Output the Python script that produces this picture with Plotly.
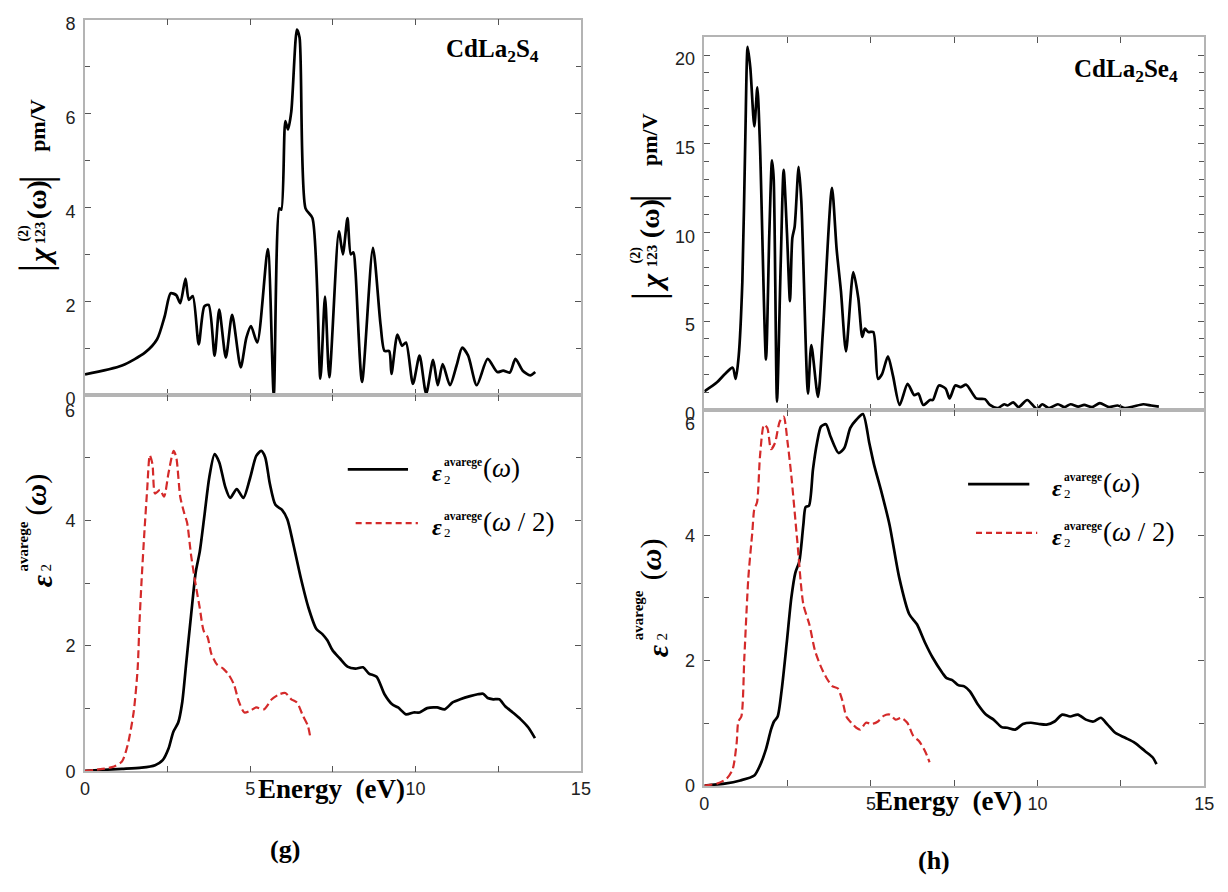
import plotly.graph_objects as go

W, H = 1228, 892

# ---------------- data ----------------
# (g) CdLa2S4 |chi(2)_123|
chi_s_e = [0, 1.12, 1.82, 2.18, 2.41, 2.59, 2.76, 2.88, 3.04, 3.14, 3.26, 3.44, 3.61, 3.74, 3.92,
           4.06, 4.26, 4.45, 4.71, 4.88, 5.02, 5.21, 5.53, 5.71, 5.88, 5.94, 6.06, 6.14, 6.24, 6.41,
           6.49, 6.67, 6.88, 7.12, 7.26, 7.39, 7.68, 7.80, 7.94, 8.04, 8.12, 8.18, 8.38, 8.71, 8.94,
           9.06, 9.20, 9.27, 9.45, 9.59, 9.71, 9.92, 10.12, 10.32, 10.53, 10.67, 10.82, 11.04, 11.24,
           11.41, 11.59, 11.85, 12.18, 12.47, 12.65, 12.85, 13.02, 13.24, 13.47, 13.62]
chi_s_v = [0.44, 0.63, 0.91, 1.19, 1.68, 2.17, 2.13, 1.96, 2.48, 2.03, 2.11, 1.08, 1.89, 1.92, 0.84,
           1.82, 0.80, 1.71, 0.59, 1.22, 1.47, 1.12, 3.11, 0.0, 3.98, 3.95, 5.84, 5.66, 6.04, 7.79,
           7.62, 3.98, 3.77, 0.35, 2.10, 0.38, 3.49, 3.00, 3.77, 3.00, 3.04, 2.66, 0.28, 3.14, 1.50,
           0.94, 0.94, 0.45, 1.29, 1.05, 1.12, 0.24, 0.84, 0.03, 0.75, 0.21, 0.66, 0.21, 0.63,
           1.01, 0.84, 0.21, 0.77, 0.49, 0.52, 0.48, 0.77, 0.52, 0.42, 0.49]

# (g) eps2 average (omega)
eps_s_e = [0, 1.12, 1.71, 2.12, 2.35, 2.53, 2.67, 2.82, 2.94, 3.06, 3.21, 3.35, 3.47, 3.61, 3.76,
           3.92, 4.06, 4.24, 4.39, 4.59, 4.79, 5.00, 5.18, 5.33, 5.45, 5.59, 5.76, 5.96, 6.12, 6.29,
           6.53, 6.76, 7.00, 7.18, 7.33, 7.49, 7.71, 7.94, 8.18, 8.41, 8.59, 8.82, 9.06, 9.29, 9.47,
           9.71, 9.94, 10.12, 10.35, 10.65, 10.88, 11.12, 11.35, 11.65, 11.88, 12.04, 12.18, 12.35,
           12.53, 12.71, 12.94, 13.18, 13.41, 13.61]
eps_s_v = [0.01, 0.04, 0.06, 0.10, 0.18, 0.37, 0.63, 0.78, 1.10, 1.72, 2.50, 3.18, 3.50, 4.07, 4.69,
           5.06, 4.93, 4.54, 4.36, 4.50, 4.36, 4.69, 5.03, 5.11, 5.01, 4.59, 4.25, 4.17, 4.02, 3.65,
           3.08, 2.61, 2.27, 2.19, 2.09, 1.93, 1.80, 1.67, 1.64, 1.66, 1.56, 1.51, 1.23, 1.07, 1.02,
           0.91, 0.94, 0.94, 1.01, 1.02, 0.99, 1.10, 1.15, 1.20, 1.23, 1.24, 1.17, 1.15,
           1.15, 1.04, 0.94, 0.83, 0.70, 0.53]

# (g) eps2 average (omega/2)
half_s_e = [0, 0.53, 0.88, 1.12, 1.29, 1.47, 1.59, 1.65, 1.71, 1.79, 1.88, 1.96, 2.04, 2.12, 2.27,
            2.39, 2.53, 2.68, 2.76, 2.88, 3.00, 3.09, 3.21, 3.35, 3.47, 3.59, 3.71, 3.82, 4.00, 4.18,
            4.35, 4.51, 4.65, 4.82, 5.00, 5.18, 5.41, 5.65, 5.88, 6.06, 6.24, 6.41, 6.59, 6.74, 6.82]
half_s_v = [0.01, 0.04, 0.08, 0.16, 0.42, 0.94, 1.62, 2.40, 3.03, 3.76, 4.49, 5.04, 4.90, 4.43, 4.49,
            4.38, 4.77, 5.11, 5.01, 4.38, 4.12, 3.96, 3.44, 2.97, 2.61, 2.24, 2.14, 1.88, 1.70, 1.64,
            1.54, 1.38, 1.12, 0.94, 0.97, 1.02, 0.99, 1.15, 1.23, 1.25, 1.15, 1.10, 0.89, 0.73, 0.53]

# (h) CdLa2Se4 |chi(2)_123|
chi_se_e = [0, 0.38, 0.61, 0.85, 0.94, 1.03, 1.14, 1.23, 1.30, 1.38, 1.50, 1.59, 1.67, 1.85, 1.95,
            2.03, 2.08, 2.18, 2.29, 2.38, 2.48, 2.57, 2.64, 2.71, 2.83, 2.91, 3.11, 3.21, 3.41, 3.56,
            3.83, 3.97, 4.10, 4.25, 4.47, 4.62, 4.74, 4.82, 4.92, 5.07, 5.21, 5.33, 5.51, 5.66, 5.86,
            6.10, 6.30, 6.42, 6.57, 6.77, 6.86, 7.04, 7.24, 7.36, 7.53, 7.69, 7.86, 8.16, 8.42, 8.57,
            8.80, 9.00, 9.10, 9.27, 9.43, 9.69, 9.98, 10.14, 10.34, 10.61, 10.81, 10.99, 11.22, 11.40,
            11.64, 11.87, 12.14, 12.40, 12.62, 12.87, 13.17, 13.41, 13.64]
chi_se_v = [1.04, 1.55, 2.00, 2.37, 1.74, 3.01, 7.21, 15.4, 20.46, 19.27, 15.98, 18.17, 14.89, 2.83, 9.95,
            14.06, 13.06, 0.46, 8.13, 13.52, 9.95, 6.12, 9.68, 10.32, 13.70, 11.78, 0.91, 3.65, 0.73, 4.47,
            12.51, 9.04, 6.67, 3.29, 7.76, 6.30, 4.11, 4.57, 4.38, 4.38, 1.74, 2.00, 3.01, 1.92, 0.27,
            1.46, 0.82, 0.91, 0.27, 0.55, 0.55, 1.37, 1.19, 0.64, 1.37, 1.28, 1.41, 0.64, 0.60, 0.27,
            0.09, 0.31, 0.24, 0.42, 0.15, 0.55, 0.04, 0.31, 0.09, 0.31, 0.15, 0.31, 0.18, 0.27,
            0.15, 0.37, 0.15, 0.24, 0.09, 0.18, 0.31, 0.24, 0.18]

# (h) eps2 average (omega)
eps_se_e = [0, 0.61, 1.08, 1.50, 1.67, 1.85, 2.00, 2.09, 2.20, 2.32, 2.47, 2.61, 2.73, 2.85, 2.97,
            3.04, 3.14, 3.26, 3.38, 3.50, 3.65, 3.79, 4.03, 4.20, 4.38, 4.56, 4.76, 4.95, 5.09, 5.32,
            5.56, 5.85, 6.15, 6.38, 6.62, 6.85, 7.15, 7.27, 7.44, 7.62, 7.80, 7.97, 8.21, 8.45, 8.68,
            8.92, 9.09, 9.33, 9.56, 9.80, 10.04, 10.27, 10.51, 10.74, 10.98, 11.21, 11.45, 11.68,
            11.90, 12.10, 12.33, 12.63, 12.92, 13.22, 13.45, 13.57]
eps_se_v = [0.01, 0.04, 0.09, 0.17, 0.33, 0.59, 0.90, 1.03, 1.11, 1.53, 2.27, 3.00, 3.40, 3.58, 4.16,
            4.45, 4.47, 5.05, 5.47, 5.73, 5.77, 5.57, 5.31, 5.39, 5.71, 5.84, 5.93, 5.47, 5.13, 4.68,
            4.16, 3.32, 2.74, 2.58, 2.29, 2.05, 1.80, 1.72, 1.69, 1.61, 1.59, 1.51, 1.30, 1.14, 1.06,
            0.94, 0.93, 0.90, 0.99, 1.01, 0.99, 0.98, 1.03, 1.14, 1.11, 1.14, 1.06, 1.03,
            1.09, 0.98, 0.85, 0.77, 0.69, 0.56, 0.46, 0.35]

# (h) eps2 average (omega/2)
half_se_e = [0, 0.38, 0.67, 0.85, 0.97, 1.02, 1.11, 1.20, 1.32, 1.44, 1.50, 1.58, 1.67, 1.79, 1.89,
             2.00, 2.12, 2.26, 2.38, 2.50, 2.61, 2.79, 2.97, 3.15, 3.32, 3.50, 3.67, 3.85, 4.00, 4.15,
             4.26, 4.41, 4.56, 4.68, 4.85, 5.03, 5.21, 5.38, 5.56, 5.74, 5.91, 6.09, 6.27, 6.44, 6.62, 6.76]
half_se_v = [0.01, 0.04, 0.12, 0.27, 0.69, 1.03, 1.11, 2.05, 3.32, 4.05, 4.42, 4.52, 5.26, 5.76, 5.71,
             5.37, 5.47, 5.81, 5.89, 5.47, 4.95, 3.90, 2.90, 2.58, 2.16, 1.90, 1.72, 1.59, 1.56, 1.35,
             1.11, 1.01, 0.93, 0.90, 1.01, 0.99, 1.03, 1.12, 1.14, 1.06, 1.09, 1.01, 0.80, 0.72, 0.56, 0.38]

x_ticks = [0, 5, 10, 15]
eps_ticks = [0, 2, 4, 6]
eps_ticktext = ["0", "2", "4", ""]   # the "6" is drawn lower, as in the original

# ---------------- figure ----------------
def px2x(p):
    return p / W

def px2y(p):
    return 1 - p / H

fig = go.Figure()

BLACK = dict(color="black", width=2.7)
RED = dict(color="#d42a2a", width=2.2, dash="8px,4px")

def add(xs, ys, ax, style):
    fig.add_trace(go.Scatter(x=xs, y=ys, mode="lines",
                             line=dict(**style, shape="spline", smoothing=0.7),
                             xaxis="x" + ax, yaxis="y" + ax, showlegend=False, hoverinfo="skip"))

add(chi_s_e, chi_s_v, "", BLACK)
add(eps_s_e, eps_s_v, "2", BLACK)
add(half_s_e, half_s_v, "2", RED)
add(chi_se_e, chi_se_v, "3", BLACK)
add(eps_se_e, eps_se_v, "4", BLACK)
add(half_se_e, half_se_v, "4", RED)

FRAME = "#b4b4b4"
TICKC = "#555555"
SANS = "Liberation Sans, Arial, sans-serif"
TICKFONT = dict(family=SANS, size=18, color="#222")

def xax(dom, labels, anchor):
    return dict(domain=dom, range=[0, 15], tickvals=x_ticks, showticklabels=labels,
                ticks="inside", ticklen=6, tickcolor=TICKC, tickwidth=1.3,
                minor=dict(dtick=2.5, ticks="inside", ticklen=6, tickcolor=TICKC, tickwidth=1.3),
                showline=True, linecolor=FRAME, linewidth=1.6, mirror="ticks",
                showgrid=False, zeroline=False, tickfont=TICKFONT, anchor=anchor)

def yax(dom, rng, dtick, mdt, anchor, eps=False):
    d = dict(domain=dom, range=rng, dtick=dtick, tick0=0,
             ticks="inside", ticklen=6, tickcolor=TICKC, tickwidth=1.3,
             minor=dict(dtick=mdt, ticks="inside", ticklen=5, tickcolor=TICKC, tickwidth=1.3),
             showline=True, linecolor=FRAME, linewidth=1.6, mirror="ticks",
             showgrid=False, zeroline=False, tickfont=TICKFONT, anchor=anchor, ticklabelstandoff=4)
    if eps:
        d.update(tickvals=eps_ticks, ticktext=eps_ticktext)
    else:
        d.update(ticklabelshift=4)
    return d

LX = [px2x(81), px2x(583)]
RX = [px2x(708), px2x(1214)]

fig.update_layout(
    width=W, height=H, margin=dict(l=0, r=0, t=0, b=0),
    paper_bgcolor="white", plot_bgcolor="white",
    xaxis=xax(LX, False, "y"),
    yaxis=yax([px2y(398), px2y(14)], [0, 8], 2, 1, "x"),
    xaxis2=xax(LX, True, "y2"),
    yaxis2=yax([px2y(783), px2y(398)], [0, 6], 2, 1, "x2", eps=True),
    xaxis3=xax(RX, False, "y3"),
    yaxis3=yax([px2y(413), px2y(32)], [0, 21], 5, 1, "x3"),
    xaxis4=xax(RX, True, "y4"),
    yaxis4=yax([px2y(798), px2y(413)], [0, 6], 2, 1, "x4", eps=True),
)

SERIF = "Liberation Serif, Times New Roman, serif"
anns = []
def ann(text, px, py, size, angle=0, xanchor="center", family=SERIF, color="black"):
    anns.append(dict(text=text, x=px2x(px), y=px2y(py), xref="paper", yref="paper",
                     xanchor=xanchor, yanchor="middle", showarrow=False, textangle=angle,
                     font=dict(family=family, size=size, color=color)))

# lowered "6" tick labels of the epsilon panels
ann("6", 66, 414, 18, family=SANS, color="#222")
ann("6", 693, 428, 18, family=SANS, color="#222")

# compound labels
ann("<b>CdLa<sub>2</sub>S<sub>4</sub></b>", 494, 46, 25)
ann("<b>CdLa<sub>2</sub>Se<sub>4</sub></b>", 1135, 66, 25)

# x titles and panel labels
ann("<b>Energy  (eV)</b>", 331, 801, 27)
ann("<b>Energy  (eV)</b>", 955, 813, 27)
ann("<b>(g)</b>", 283, 863, 26)
ann("<b>(h)</b>", 940, 874, 26)

# y titles for chi panels (rotated pieces)
def chi_title(cx, bar_lo, bar_hi, y_chi, y_sub, y_om, y_pm):
    ann("|", cx - 1, bar_lo, 44, -90)
    ann("<b><i>χ</i></b>", cx + 3, y_chi, 30, -90)
    ann("<b>(2)</b>", cx - 13, y_sub, 14, -90)
    ann("<b>123</b>", cx + 3, y_sub, 15, -90)
    ann("<b>(ω)</b>", cx, y_om, 28, -90)
    ann("|", cx - 1, bar_hi, 44, -90)
    ann("<b>pm/V</b>", cx + 1, y_pm, 22, -90)

chi_title(32, 268, 177, 256, 232, 198, 122)
chi_title(652, 297, 197, 282, 255, 218, 137)

def eps_title(cx, yeps, y_sup, y_sub, y_om):
    ann("<b><i>ε</i></b>", cx + 4, yeps, 30, -90)
    ann("<b>avarege</b>", cx - 15, y_sup, 15, -90)
    ann("2", cx + 9, y_sub, 15, -90)
    ann("(<b><i>ω</i></b>)", cx - 2, y_om, 30, -90)

eps_title(33, 588, 553, 574, 500)
eps_title(656, 659, 623, 645, 566)

# legends
def legend(x_line0, x_line1, y_line, xe, ye, half, red):
    shape_line = dict(color="#d42a2a", width=2.4, dash="6px,4px") if red else dict(color="black", width=2.8)
    fig.add_shape(type="line", xref="paper", yref="paper",
                  x0=px2x(x_line0), x1=px2x(x_line1), y0=px2y(y_line), y1=px2y(y_line), line=shape_line)
    ann("<b><i>ε</i></b>", xe, ye + 4, 24)
    ann("<b>avarege</b>", xe + 5, ye - 7, 11.5, xanchor="left")
    ann("2", xe + 5, ye + 10, 13, xanchor="left")
    ann("(<i>ω</i> / 2)" if half else "(<i>ω</i>)", xe + 45, ye - 1, 27, xanchor="left")

legend(347, 408, 474, 437, 474, False, False)
legend(355, 418, 529, 437, 529, True, True)
legend(975, 1037, 489, 1065, 489, False, False)
legend(983, 1045, 539, 1065, 539, True, True)

fig.update_layout(annotations=anns)
fig.write_html("out.html")
